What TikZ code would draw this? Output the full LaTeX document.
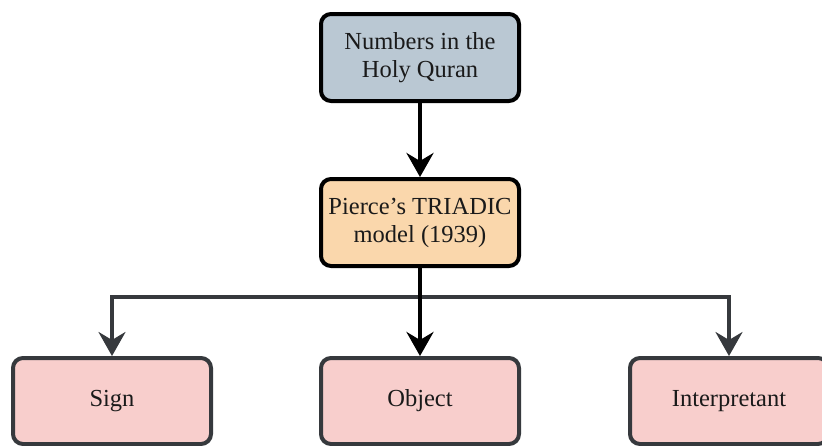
\documentclass[tikz,border=0pt]{standalone}
\usepackage{fontspec}
\setmainfont{Liberation Serif}
\usetikzlibrary{arrows.meta}
\definecolor{topfill}{HTML}{BAC8D3}
\definecolor{midfill}{HTML}{FAD7AC}
\definecolor{botfill}{HTML}{F8CECC}
\definecolor{botline}{HTML}{36393D}
\definecolor{txt}{HTML}{1A1A1A}
\tikzset{
  box/.style={rectangle, rounded corners=10pt, line width=4pt, minimum width=198pt,
    minimum height=87pt, align=center, text=txt,
    font=\fontsize{24.5}{28}\selectfont, inner sep=0pt},
  topbox/.style={box, draw=black, fill=topfill},
  midbox/.style={box, draw=black, fill=midfill},
  botbox/.style={box, draw=botline, fill=botfill, minimum height=86pt},
  blackedge/.style={draw=black, line width=4pt, -{Stealth[length=24pt,width=27pt,inset=8pt]}},
  grayedge/.style={draw=botline, line width=3.5pt, -{Stealth[length=24pt,width=27pt,inset=8pt]}}
}
\begin{document}
\begin{tikzpicture}[x=1pt,y=-1pt]
\useasboundingbox[fill=white] (0,0) rectangle (822,445);
\node[topbox] (top) at (420,57.5) {Numbers in the\\Holy Quran};
\node[midbox] (mid) at (420,222.5) {Pierce’s TRIADIC\\model (1939)};
\node[botbox] (sign) at (112,401) {Sign};
\node[botbox] (obj) at (420,401) {Object};
\node[botbox] (interp) at (729,401) {Interpretant};
\coordinate (j) at (420,297);
\draw[grayedge] (mid.south) -- (j) -| (sign.north);
\draw[grayedge] (mid.south) -- (j) -| (interp.north);
\draw[blackedge] (top) -- (mid);
\draw[blackedge] (mid) -- (obj);
\end{tikzpicture}
\end{document}
